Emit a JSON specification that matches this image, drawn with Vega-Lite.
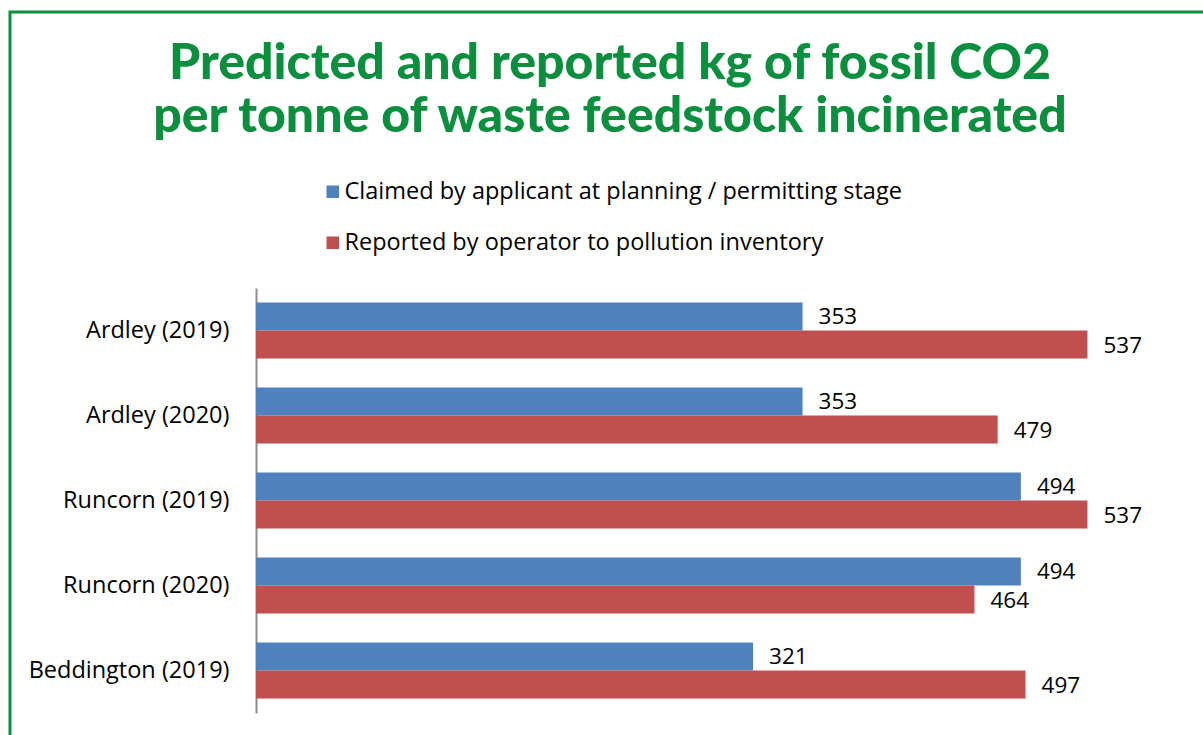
{
  "$schema": "https://vega.github.io/schema/vega-lite/v6.json",
  "autosize": "none",
  "padding": {"left": 10, "top": 12, "right": 0, "bottom": 0},
  "width": 1196,
  "height": 726,
  "background": "white",
  "title": {
    "text": ["Predicted and reported kg of fossil CO2", "per tonne of waste feedstock incinerated"],
    "anchor": "middle",
    "frame": "group",
    "orient": "top",
    "offset": -170,
    "baseline": "alphabetic",
    "dx": 2,
    "font": "Lato",
    "fontWeight": 900,
    "fontSize": 50,
    "lineHeight": 53,
    "color": "#0B8E3E"
  },
  "config": {
    "view": {"stroke": "#0B8E3E", "strokeWidth": 3},
    "font": "Open Sans"
  },
  "data": {
    "values": [
      {"site": "Ardley (2019)", "series": "Claimed by applicant at planning / permitting stage", "value": 353},
      {"site": "Ardley (2019)", "series": "Reported by operator to pollution inventory", "value": 537},
      {"site": "Ardley (2020)", "series": "Claimed by applicant at planning / permitting stage", "value": 353},
      {"site": "Ardley (2020)", "series": "Reported by operator to pollution inventory", "value": 479},
      {"site": "Runcorn (2019)", "series": "Claimed by applicant at planning / permitting stage", "value": 494},
      {"site": "Runcorn (2019)", "series": "Reported by operator to pollution inventory", "value": 537},
      {"site": "Runcorn (2020)", "series": "Claimed by applicant at planning / permitting stage", "value": 494},
      {"site": "Runcorn (2020)", "series": "Reported by operator to pollution inventory", "value": 464},
      {"site": "Beddington (2019)", "series": "Claimed by applicant at planning / permitting stage", "value": 321},
      {"site": "Beddington (2019)", "series": "Reported by operator to pollution inventory", "value": 497}
    ]
  },
  "encoding": {
    "y": {
      "field": "site",
      "type": "nominal",
      "sort": null,
      "scale": {"range": [276, 701], "paddingInner": 0.34, "paddingOuter": 0.17},
      "axis": {
        "title": null,
        "offset": -246,
        "ticks": false,
        "labelPadding": 27,
        "labelFontSize": 23.5,
        "labelFont": "Open Sans",
        "labelColor": "#000000",
        "labelLimit": 400,
        "domainColor": "#8c8c8c",
        "domainWidth": 2
      }
    },
    "yOffset": {
      "field": "series",
      "type": "nominal",
      "sort": ["Claimed by applicant at planning / permitting stage", "Reported by operator to pollution inventory"]
    },
    "x": {
      "field": "value",
      "type": "quantitative",
      "scale": {"domain": [0, 600], "range": [246, 1175], "nice": false, "zero": true},
      "axis": null
    }
  },
  "layer": [
    {
      "mark": {"type": "bar"},
      "encoding": {
        "color": {
          "field": "series",
          "type": "nominal",
          "scale": {
            "domain": ["Claimed by applicant at planning / permitting stage", "Reported by operator to pollution inventory"],
            "range": ["#4F81BD", "#C0504D"]
          },
          "legend": {
            "title": null,
            "orient": "none",
            "legendX": 311,
            "legendY": 168,
            "padding": 0,
            "direction": "vertical",
            "symbolType": "square",
            "symbolSize": 156,
            "symbolStrokeWidth": 0,
            "labelFontSize": 23.5,
            "labelFont": "Open Sans",
            "labelColor": "#000000",
            "labelOffset": 0,
            "rowPadding": 26,
            "labelLimit": 0
          }
        }
      }
    },
    {
      "mark": {"type": "text", "align": "left", "baseline": "middle", "dx": 16, "dy": 1, "fontSize": 22.5, "font": "Open Sans", "color": "#000000"},
      "encoding": {
        "text": {"field": "value", "type": "quantitative"}
      }
    }
  ]
}
